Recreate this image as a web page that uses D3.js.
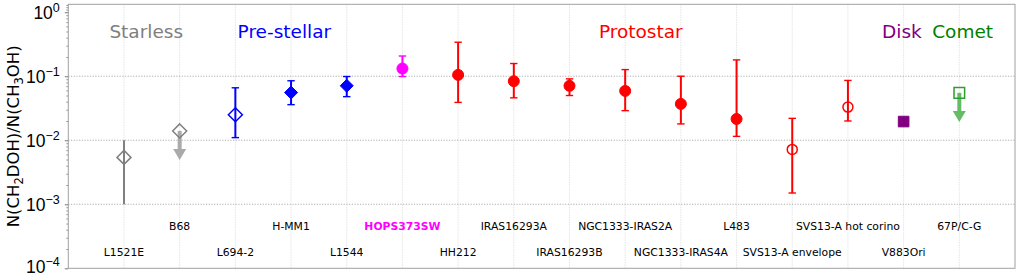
<!DOCTYPE html>
<html>
<head>
<meta charset="utf-8">
<script src="https://cdn.jsdelivr.net/npm/d3@7"></script>
<style>
  html, body { margin: 0; padding: 0; background: #fff; }
  svg { display: block; font-family: "DejaVu Sans", sans-serif; }
</style>
</head>
<body>
<div id="chart"></div>
<script>
// Dados
const names = ["L1521E", "B68", "L694-2", "H-MM1", "L1544", "HOPS373SW", "HH212",
  "IRAS16293A", "IRAS16293B", "NGC1333-IRAS2A", "NGC1333-IRAS4A", "L483",
  "SVS13-A envelope", "SVS13-A hot corino", "V883Ori", "67P/C-G"];
const ratio   = [0.0054, 0.014, 0.025, 0.0556, 0.071, 0.132, 0.105, 0.0836, 0.071, 0.059, 0.037, 0.0215, 0.0072, 0.033, 0.0196, 0.055];
const errLow  = [0.001, null, 0.011, 0.036, 0.048, 0.099, 0.039, 0.046, 0.050, 0.029, 0.018, 0.0115, 0.0015, 0.020, 0.0178, null];
const errHigh = [0.010, null, 0.066, 0.085, 0.099, 0.207, 0.34, 0.158, 0.091, 0.127, 0.100, 0.18, 0.022, 0.086, 0.0215, null];
// limites superiores (seta até este valor)
const limitTip = [null, 0.0049, null, null, null, null, null, null, null, null, null, null, null, null, null, 0.0193];
const stage = ["Starless", "Starless", "Pre-stellar", "Pre-stellar", "Pre-stellar", "HOPS", "Protostar",
  "Protostar", "Protostar", "Protostar", "Protostar", "Protostar", "Protostar", "Protostar", "Disk", "Comet"];
const shape  = ["diamond", "diamond", "diamond", "diamond", "diamond", "circle", "circle", "circle",
  "circle", "circle", "circle", "circle", "circle", "circle", "square", "square"];
const filled = [false, false, false, true, true, true, true, true, true, true, true, true, false, false, true, false];

const groupNames = ["Starless", "Pre-stellar", "Protostar", "Disk", "Comet"];
const groupPos   = [0.4, 2.88, 9.28, 13.97, 15.06];
const yTicks = [1e-4, 1e-3, 1e-2, 1e-1, 1];
const yTickExp = ["\u22124", "\u22123", "\u22122", "\u22121", "0"];

// Estilos
const stageColor = {
  "Starless": "#808080", "Pre-stellar": "#0000ff", "HOPS": "#ff00ff",
  "Protostar": "#ff0000", "Disk": "#800080", "Comet": "#008000"
};
const markColor = { "Comet": "#2ca02c" };
const arrowColor = { "Starless": "#aaaaaa", "Comet": "#66bb66" };

const width = 1020, height = 275;
const plot = { left: 68.3, right: 1015, top: 4.3, bottom: 268.3 };

const svg = d3.select("#chart").append("svg")
  .attr("width", width)
  .attr("height", height);

const x = d3.scaleLinear().domain([-1, 16]).range([plot.left, plot.right]);
const y = d3.scaleLog().domain([1e-4, 1.33]).range([plot.bottom, plot.top]);

// Grade
svg.append("g")
  .selectAll("line")
  .data(d3.range(names.length))
  .enter().append("line")
  .attr("x1", d => x(d)).attr("x2", d => x(d))
  .attr("y1", plot.top).attr("y2", plot.bottom)
  .attr("stroke", "#dddddd")
  .attr("stroke-width", 0.8)
  .attr("stroke-dasharray", "1.5,1");

svg.append("g")
  .selectAll("line")
  .data([1e-3, 1e-2, 1e-1])
  .enter().append("line")
  .attr("x1", plot.left).attr("x2", plot.right)
  .attr("y1", d => y(d)).attr("y2", d => y(d))
  .attr("stroke", "#999999")
  .attr("stroke-width", 0.8)
  .attr("stroke-dasharray", "1.2,1.5");

// Eixo Y (ticks maiores e menores)
const minor = [];
[1e-4, 1e-3, 1e-2, 1e-1].forEach(dec => {
  for (let k = 2; k <= 9; k++) minor.push(dec * k);
});
minor.push(1.1, 1.2, 1.3);

const minorAxis = svg.append("g")
  .attr("transform", `translate(${plot.left},0)`)
  .call(d3.axisLeft(y).tickValues(minor.filter(v => v <= 1.33)).tickSize(2).tickFormat(""));
minorAxis.select(".domain").remove();
minorAxis.selectAll("line").attr("stroke", "#555").attr("stroke-width", 0.6);

const majorAxis = svg.append("g")
  .attr("transform", `translate(${plot.left},0)`)
  .call(d3.axisLeft(y).tickValues(yTicks).tickSize(3.5).tickPadding(5).tickFormat(""));
majorAxis.select(".domain").remove();
majorAxis.selectAll("line").attr("stroke", "#555").attr("stroke-width", 0.8);

majorAxis.selectAll(".tick text")
  .attr("fill", "#000")
  .attr("font-size", 17.5)
  .attr("dy", (d, i) => i === 0 ? "0.22em" : "0.34em")
  .each(function (d, i) {
    const t = d3.select(this);
    t.append("tspan").text("10");
    t.append("tspan").attr("dy", -7).attr("font-size", 12.5).text(yTickExp[i]);
  });

// Moldura
svg.append("rect")
  .attr("x", plot.left).attr("y", plot.top)
  .attr("width", plot.right - plot.left)
  .attr("height", plot.bottom - plot.top)
  .attr("fill", "none")
  .attr("stroke", "#a0a0a0")
  .attr("stroke-width", 1);

// Título do eixo Y
const yLabel = svg.append("text")
  .attr("transform", `translate(19,${(plot.top + plot.bottom) / 2}) rotate(-90)`)
  .attr("text-anchor", "middle")
  .attr("font-size", 16.5)
  .attr("fill", "#000");
yLabel.append("tspan").text("N(CH");
yLabel.append("tspan").attr("font-size", 11.5).attr("dy", 4).text("2");
yLabel.append("tspan").attr("dy", -4).text("DOH)/N(CH");
yLabel.append("tspan").attr("font-size", 11.5).attr("dy", 4).text("3");
yLabel.append("tspan").attr("dy", -4).text("OH)");

// Barras de erro
const idx = d3.range(names.length);
const withErr = idx.filter(i => errLow[i] !== null);

svg.append("g")
  .selectAll("line")
  .data(withErr)
  .enter().append("line")
  .attr("x1", i => x(i)).attr("x2", i => x(i))
  .attr("y1", i => y(errLow[i])).attr("y2", i => y(errHigh[i]))
  .attr("stroke", i => stageColor[stage[i]])
  .attr("stroke-width", 2);

const capped = withErr.filter(i => stage[i] !== "Starless");
["lo", "hi"].forEach(side => {
  svg.append("g")
    .selectAll("line")
    .data(capped)
    .enter().append("line")
    .attr("x1", i => x(i) - 3.7).attr("x2", i => x(i) + 3.7)
    .attr("y1", i => y(side === "lo" ? errLow[i] : errHigh[i]))
    .attr("y2", i => y(side === "lo" ? errLow[i] : errHigh[i]))
    .attr("stroke", i => stageColor[stage[i]])
    .attr("stroke-width", 1.4);
});

// Setas de limite superior
const limits = idx.filter(i => limitTip[i] !== null);
const arrows = svg.append("g")
  .selectAll("g")
  .data(limits)
  .enter().append("g");

arrows.append("line")
  .attr("x1", i => x(i)).attr("x2", i => x(i))
  .attr("y1", i => y(ratio[i])).attr("y2", i => y(limitTip[i]) - 10)
  .attr("stroke", i => arrowColor[stage[i]])
  .attr("stroke-width", 4);

arrows.append("path")
  .attr("d", i => {
    const cx = x(i), ty = y(limitTip[i]);
    return `M${cx - 6.5},${ty - 11}L${cx + 6.5},${ty - 11}L${cx},${ty}Z`;
  })
  .attr("fill", i => arrowColor[stage[i]]);

// Marcadores
function markerPath(s, r) {
  if (s === "diamond") return `M0,${-r}L${r},0L0,${r}L${-r},0Z`;
  if (s === "square") return `M${-r},${-r}L${r},${-r}L${r},${r}L${-r},${r}Z`;
  return d3.arc()({ innerRadius: 0, outerRadius: r, startAngle: 0, endAngle: 2 * Math.PI });
}

function markerSize(i) {
  if (shape[i] === "diamond") return filled[i] ? 6.5 : 7;
  if (shape[i] === "square") return 5.3;
  return filled[i] ? 5.5 : 5;
}

svg.append("g")
  .selectAll("path")
  .data(idx)
  .enter().append("path")
  .attr("transform", i => `translate(${x(i)},${y(ratio[i])})`)
  .attr("d", i => markerPath(shape[i], markerSize(i)))
  .attr("fill", i => filled[i] ? stageColor[stage[i]] : "none")
  .attr("stroke", i => markColor[stage[i]] || stageColor[stage[i]])
  .attr("stroke-width", i => filled[i] ? 1 : 1.5);

// Nomes das fontes (duas linhas alternadas)
svg.append("g")
  .selectAll("text")
  .data(idx)
  .enter().append("text")
  .attr("x", i => x(i))
  .attr("y", i => i % 2 === 0 ? 252 : 226)
  .attr("dy", "0.36em")
  .attr("text-anchor", "middle")
  .attr("font-size", 10.8)
  .attr("font-weight", i => names[i] === "HOPS373SW" ? "bold" : "normal")
  .attr("fill", i => names[i] === "HOPS373SW" ? "#ff00ff" : "#000")
  .text(i => names[i]);

// Rótulos dos grupos
svg.append("g")
  .selectAll("text")
  .data(groupNames)
  .enter().append("text")
  .attr("x", (d, i) => x(groupPos[i]))
  .attr("y", 38)
  .attr("text-anchor", "middle")
  .attr("font-size", 18.5)
  .attr("fill", d => stageColor[d])
  .text(d => d);
</script>
</body>
</html>
